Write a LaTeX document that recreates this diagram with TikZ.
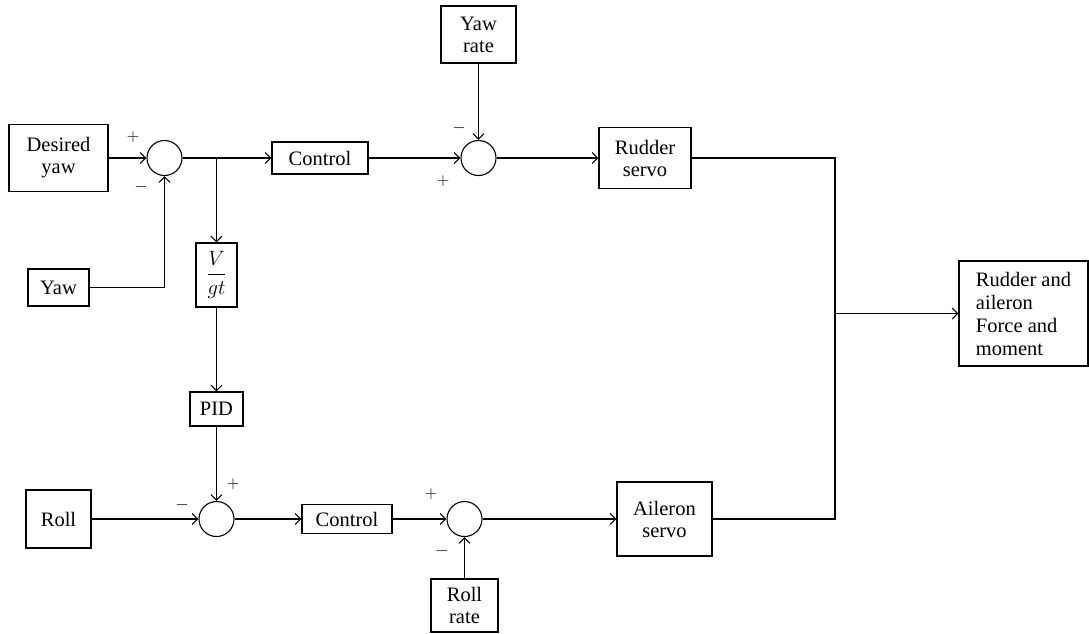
\documentclass[tikz,border=0pt]{standalone}
\usepackage{amsmath}
\usepackage{fontspec}
\setmainfont{Liberation Serif}
\usetikzlibrary{arrows.meta}
\begin{document}
\begin{tikzpicture}[x=1pt,y=-1pt,
  every node/.style={font=\fontsize{20.5}{22}\selectfont},
  blk/.style={draw, line width=1.1pt, inner sep=0pt, align=center, minimum width=#1},
  sumc/.style={draw, circle, line width=1.1pt, minimum size=35pt, inner sep=0pt},
  sgn/.style={font=\fontsize{17}{17}\selectfont, inner sep=0pt},
  conn/.style={line width=1.1pt},
  arr/.style={conn, -{Straight Barb[length=5.5pt,width=11pt,line width=1.1pt]}},
  line join=miter]
\useasboundingbox (0,0) rectangle (1089,633);
% nodes
\node[blk=99pt, minimum height=67pt] (dy) at (58.5,158) {Desired\\yaw};
\node[sumc] (s1) at (164.5,158) {};
\node[blk=96pt, minimum height=32pt] (c1) at (320,158) {Control};
\node[blk=75pt, minimum height=57pt] (yr) at (478.5,34.5) {Yaw\\rate};
\node[sumc] (s2) at (478.5,158) {};
\node[blk=92pt, minimum height=61pt] (rs) at (645,158) {Rudder\\servo};
\node[blk=61pt, minimum height=37pt] (yaw) at (58.5,287.5) {Yaw};
\node[blk=41pt, minimum height=64pt] (vgt) at (216.5,275) {$\dfrac{V}{gt}$};
\node[blk=53pt, minimum height=34pt] (pid) at (216.5,409) {PID};
\node[blk=65pt, minimum height=58pt] (roll) at (58.5,519) {Roll};
\node[sumc] (s3) at (216.5,519) {};
\node[blk=90pt, minimum height=29pt] (c2) at (347,519) {Control};
\node[sumc] (s4) at (464.5,519) {};
\node[blk=67pt, minimum height=53pt] (rr) at (464.5,605.5) {Roll\\rate};
\node[blk=95pt, minimum height=74pt] (as) at (664.5,519) {Aileron\\servo};
\node[blk=129pt, minimum height=105pt, align=left, font=\fontsize{20.5}{23}\selectfont] (out) at (1023.5,313.5) {Rudder and\\aileron\\Force and\\moment};
% coordinates
\coordinate (b1) at (216.5,158);
\coordinate (j1) at (835,158);
\coordinate (j2) at (835,519);
\coordinate (j3) at (835,313.5);
% connectors
\draw[arr] (dy.east) -- (s1.west);
\draw[conn] (s1.east) -- (b1);
\draw[arr] (b1) -- (c1.west);
\draw[arr] (b1) -- (vgt.north);
\draw[arr] (yaw.east) -| (s1.south);
\draw[arr] (vgt.south) -- (pid.north);
\draw[arr] (pid.south) -- (s3.north);
\draw[arr] (roll.east) -- (s3.west);
\draw[arr] (s3.east) -- (c2.west);
\draw[arr] (c2.east) -- (s4.west);
\draw[arr] (rr.north) -- (s4.south);
\draw[arr] (s4.east) -- (as.west);
\draw[arr] (c1.east) -- (s2.west);
\draw[arr] (yr.south) -- (s2.north);
\draw[arr] (s2.east) -- (rs.west);
\draw[conn] (rs.east) -- (j1) -- (j2) -- (as.east);
\draw[arr] (j3) -- (out.west);
% signs
\node[sgn] (p1) at (133,137) {$+$};
\node[sgn] (m1) at (141,187) {$-$};
\node[sgn] (m2) at (459,128) {$-$};
\node[sgn] (p2) at (443,181) {$+$};
\node[sgn] (m3) at (182,505) {$-$};
\node[sgn] (p3) at (233,484) {$+$};
\node[sgn] (p4) at (431,494) {$+$};
\node[sgn] (m4) at (442,551) {$-$};
\end{tikzpicture}
\end{document}
